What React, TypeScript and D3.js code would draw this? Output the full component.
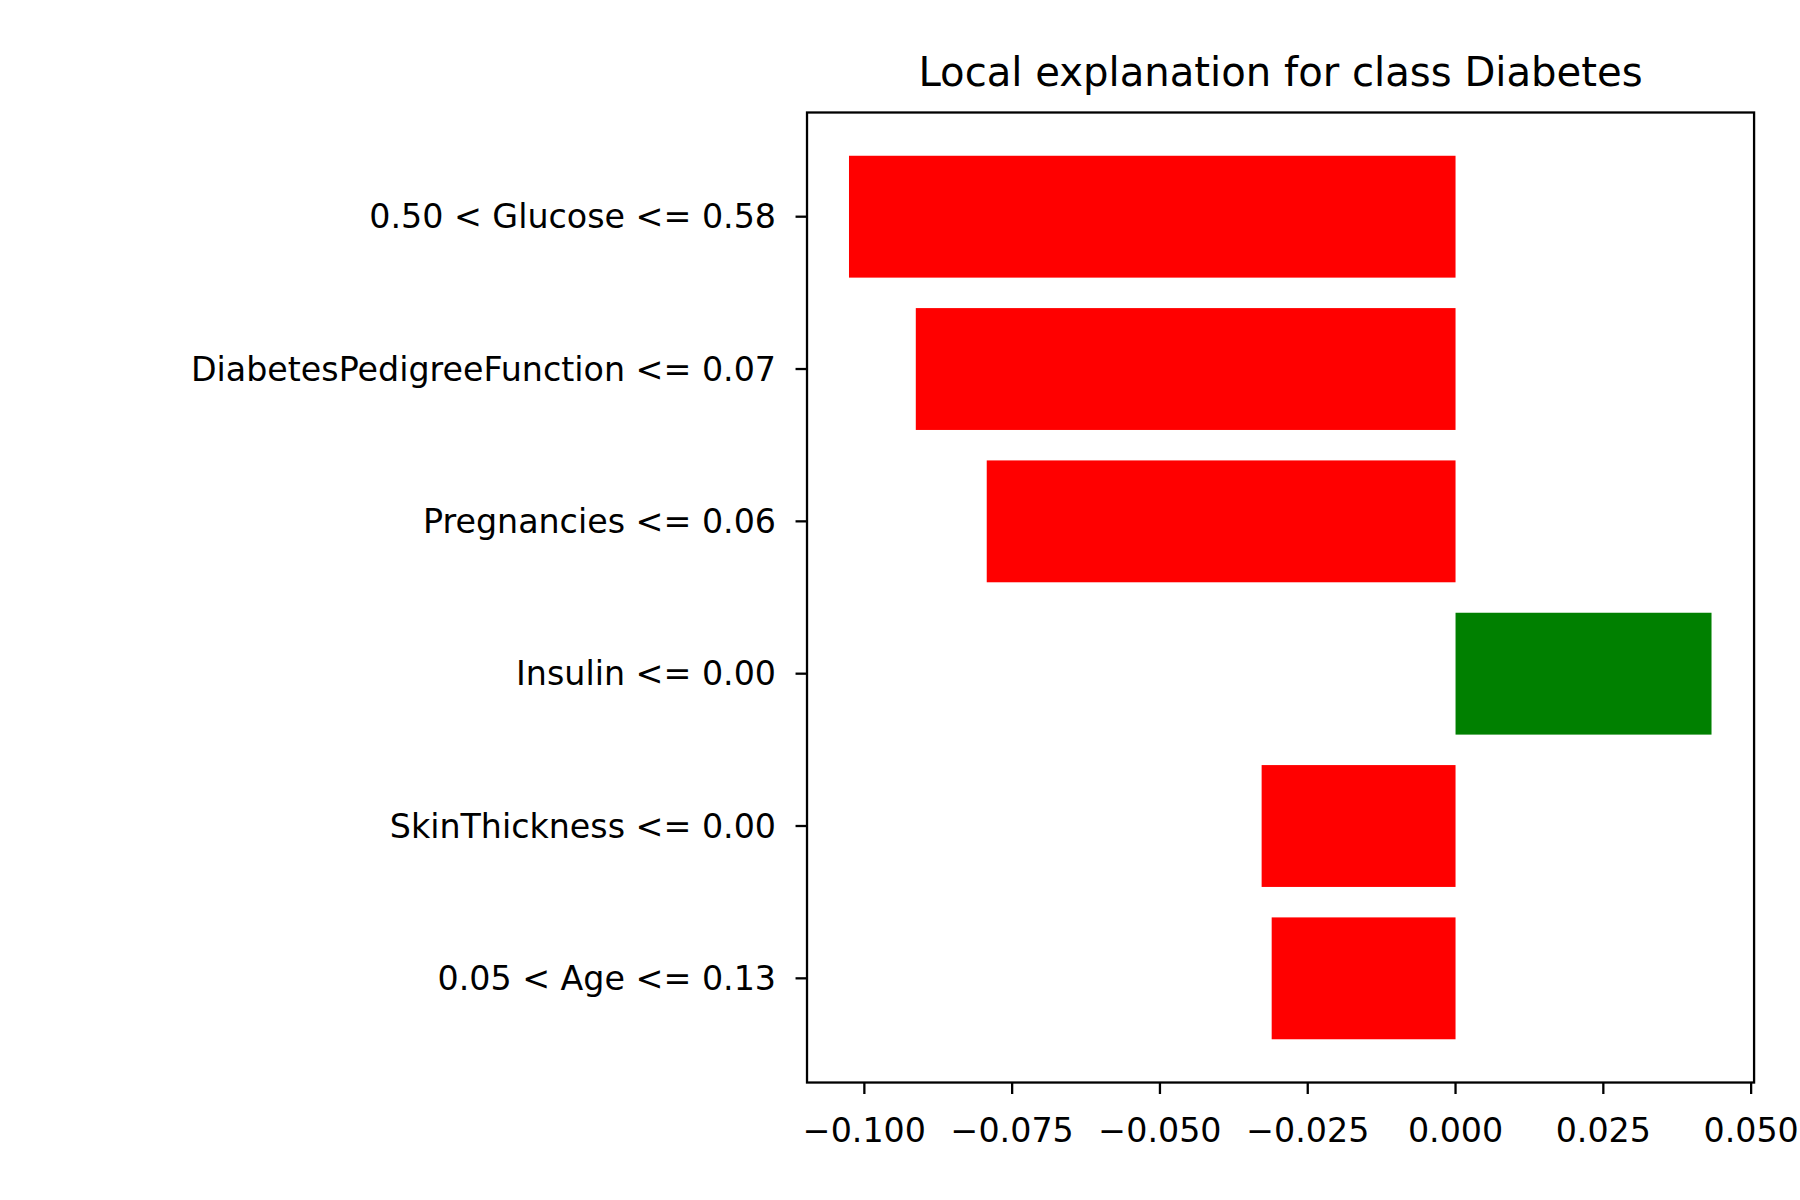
import React from "react";
import * as d3 from "d3";

const features = [
  "0.50 < Glucose <= 0.58",
  "DiabetesPedigreeFunction <= 0.07",
  "Pregnancies <= 0.06",
  "Insulin <= 0.00",
  "SkinThickness <= 0.00",
  "0.05 < Age <= 0.13",
];
const weights = [-0.1026, -0.0913, -0.0793, 0.0433, -0.0328, -0.0311];
const xTicks = [-0.1, -0.075, -0.05, -0.025, 0, 0.025, 0.05];

const App: React.FC = () => {
  const W = 1568, H = 1568 * 1200 / 1800;
  const left = 703, right = 1528, top = 98, bottom = 943;
  const x = d3.scaleLinear().domain([-0.1097, 0.0505]).range([left, right]);
  const y = d3.scaleLinear().domain([-0.684, 5.684]).range([top, bottom]);
  const bh = (y(1) - y(0)) * 0.8;
  const fmt = (v: number) => d3.format(".3f")(v).replace("-", "\u2212");
  const font = "DejaVu Sans, sans-serif";
  return (
    <svg width={1800} height={1200} viewBox={`0 0 ${W} ${H}`}
      style={{ position: "absolute", left: 0, top: 0 }} fontFamily={font}>
      <rect width={W} height={H} fill="white" />
      {weights.map((w, i) => (
        <rect key={i} x={x(Math.min(0, w))} y={y(i) - bh / 2}
          width={Math.abs(x(w) - x(0))} height={bh} fill={w > 0 ? "green" : "red"} />
      ))}
      <rect x={left} y={top} width={right - left} height={bottom - top} fill="none" stroke="black" strokeWidth={2} />
      {features.map((f, i) => (
        <g key={f}>
          <line x1={left - 10} x2={left} y1={y(i)} y2={y(i)} stroke="black" strokeWidth={2} />
          <text x={left - 27} y={y(i)} textAnchor="end" dominantBaseline="central" fontSize={29}>{f}</text>
        </g>
      ))}
      {xTicks.map((t) => (
        <g key={t}>
          <line x1={x(t)} x2={x(t)} y1={bottom} y2={bottom + 10} stroke="black" strokeWidth={2} />
          <text x={x(t)} y={bottom + 52} textAnchor="middle" fontSize={29}>{fmt(t)}</text>
        </g>
      ))}
      <text x={(left + right) / 2} y={75} textAnchor="middle" fontSize={35}>Local explanation for class Diabetes</text>
    </svg>
  );
};

export default App;
